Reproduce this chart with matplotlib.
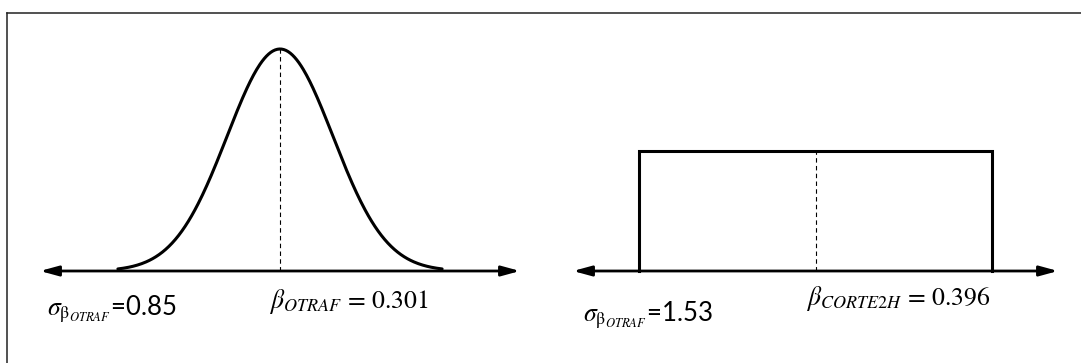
import numpy as np
import matplotlib
matplotlib.use("Agg")
import matplotlib.pyplot as plt
from matplotlib.lines import Line2D

# left panel: normal curve for beta_OTRAF
otraf_mean = 0.301
otraf_sd = 0.85
otraf_cut = 3.06      # curve drawn out to +/- this many sd
otraf_axis = 4.53     # arrow extent in sd

# right panel: uniform block for beta_CORTE2H
corte_mean = 0.396
corte_sd = 1.53
corte_height = 0.54   # relative to the normal peak
corte_axis = 1.375    # arrow extent in half-widths

labels = [
    r"$\sigma_{\mathrm{β}_{OTRAF}}$=0.85",
    r"$\beta_{OTRAF}\,=\,0.301$",
    r"$\sigma_{\mathrm{β}_{OTRAF}}$=1.53",
    r"$\beta_{CORTE2H}\,=\,0.396$",
]

W, H = 1081, 363
plt.rcParams["mathtext.fontset"] = "stix"
plt.rcParams["font.family"] = ["Lato", "DejaVu Sans"]

fig = plt.figure(figsize=(W / 100, H / 100), dpi=100)


def px_box(x0, x1, y_base, y_top):
    return [x0 / W, 1 - y_base / H, (x1 - x0) / W, (y_base - y_top) / H]


def arrow(ax, xa, xb):
    ax.annotate("", xy=(xa, 0), xytext=(xb, 0),
                arrowprops=dict(arrowstyle="<|-|>,head_length=1.1,head_width=0.3",
                                lw=2.0, color="black", shrinkA=0, shrinkB=0,
                                mutation_scale=10))


# left panel
ax1 = fig.add_axes(px_box(40, 520, 271, 49))
half = otraf_axis * otraf_sd
ax1.set_xlim(otraf_mean - half, otraf_mean + half)
ax1.set_ylim(0, 1)
ax1.axis("off")
x = np.linspace(otraf_mean - otraf_cut * otraf_sd, otraf_mean + otraf_cut * otraf_sd, 300)
y = np.exp(-0.5 * ((x - otraf_mean) / otraf_sd) ** 2)
ax1.plot(x, y, color="black", lw=2.2, clip_on=False, solid_capstyle="round")
ax1.plot([otraf_mean, otraf_mean], [0, 1], color="black", lw=0.8,
         ls=(0, (4, 3)), clip_on=False)
arrow(ax1, otraf_mean - half, otraf_mean + half)

# right panel
ax2 = fig.add_axes(px_box(573, 1058, 271, 49))
hw = np.sqrt(3) * corte_sd
half2 = corte_axis * hw
ax2.set_xlim(corte_mean - half2, corte_mean + half2)
ax2.set_ylim(0, 1)
ax2.axis("off")
ax2.plot([corte_mean - hw, corte_mean - hw, corte_mean + hw, corte_mean + hw],
         [0, corte_height, corte_height, 0], color="black", lw=2.2,
         clip_on=False, solid_joinstyle="miter")
ax2.plot([corte_mean, corte_mean], [0, corte_height], color="black", lw=0.8,
         ls=(0, (4, 3)), clip_on=False)
arrow(ax2, corte_mean - half2, corte_mean + half2)

# labels
pos = [(47, 315), (269, 308), (583, 321), (806, 305)]
sizes = [18.5, 18.5, 18.5, 18.5]
for (px, py), s, fs in zip(pos, labels, sizes):
    fig.text(px / W, 1 - py / H, s, fontsize=fs, va="baseline", ha="left")

# outer frame (top and left edges only are visible)
fig.add_artist(Line2D([7 / W, 7 / W], [0, 1 - 13 / H], transform=fig.transFigure,
                      color="#222222", lw=1.1))
fig.add_artist(Line2D([7 / W, 1], [1 - 13 / H, 1 - 13 / H], transform=fig.transFigure,
                      color="#222222", lw=1.1))

fig.savefig("out.png", dpi=100)
